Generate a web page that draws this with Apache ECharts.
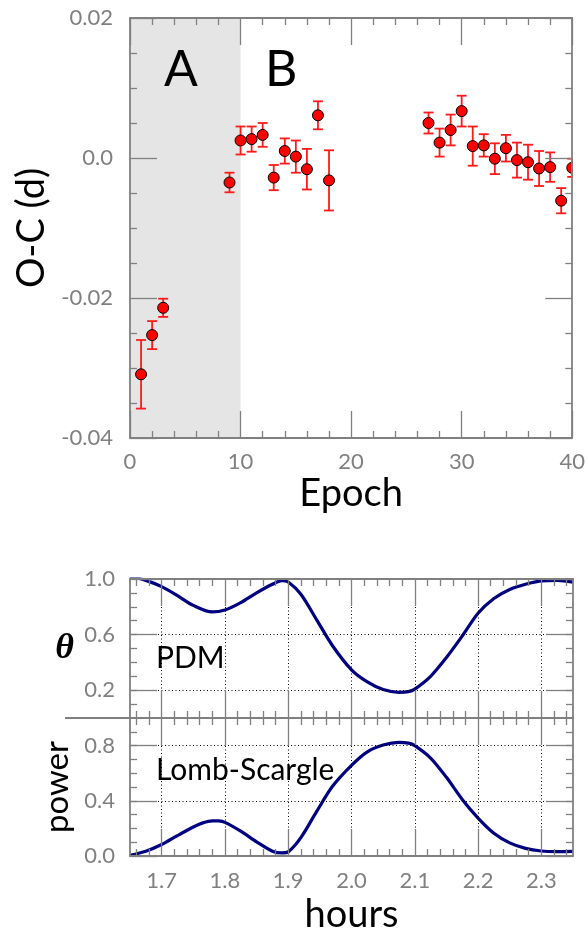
<!DOCTYPE html>
<html>
<head>
<meta charset="utf-8">
<script src="https://cdn.jsdelivr.net/npm/echarts@6/dist/echarts.min.js"></script>
<style>
html,body{margin:0;padding:0;background:#fff;}
#chart{width:588px;height:935px;}
</style>
</head>
<body>
<div id="chart"></div>
<script>
// ---- Top panel data: O-C diagram ----
var epochs = [1,2,3,9,10,11,12,13,14,15,16,17,18,27,28,29,30,31,32,33,34,35,36,37,38,39,40];
var ocValues = [-0.0309,-0.0253,-0.0214,-0.0035,0.0025,0.0027,0.0033,-0.0028,0.0010,0.0002,-0.0016,0.0061,-0.0032,0.0050,0.0022,0.0040,0.0067,0.0017,0.0018,-0.0001,0.0014,-0.0003,-0.0006,-0.0015,-0.0013,-0.0061,-0.0014];
var ocErrors = [0.0049,0.0020,0.0013,0.0014,0.0020,0.0018,0.0017,0.0018,0.0018,0.0023,0.0029,0.0020,0.0043,0.0015,0.0020,0.0022,0.0022,0.0028,0.0016,0.0022,0.0019,0.0025,0.0025,0.0025,0.0021,0.0018,0.0013];

// ---- PDM periodogram ----
var pdmHours = [1.65,1.675,1.70,1.725,1.75,1.78,1.80,1.825,1.85,1.875,1.89,1.90,1.92,1.945,1.97,2.0,2.025,2.05,2.075,2.09,2.10,2.125,2.15,2.175,2.2,2.225,2.25,2.275,2.30,2.325,2.35];
var pdmTheta = [1.02,0.99,0.945,0.88,0.81,0.763,0.777,0.83,0.90,0.962,0.988,0.978,0.89,0.706,0.52,0.347,0.26,0.205,0.185,0.19,0.208,0.30,0.435,0.59,0.754,0.86,0.925,0.962,0.986,0.99,0.978];

// ---- Lomb-Scargle periodogram ----
var lsHours = [1.65,1.675,1.70,1.725,1.75,1.765,1.78,1.79,1.80,1.825,1.85,1.875,1.89,1.90,1.92,1.945,1.97,2.0,2.025,2.05,2.075,2.09,2.10,2.125,2.15,2.175,2.2,2.225,2.25,2.275,2.30,2.325,2.35];
var lsPower = [0.005,0.035,0.083,0.148,0.21,0.24,0.255,0.254,0.244,0.18,0.103,0.035,0.022,0.03,0.133,0.323,0.505,0.657,0.755,0.805,0.824,0.818,0.80,0.71,0.57,0.41,0.275,0.165,0.095,0.055,0.036,0.032,0.034];

// ---- Tick values ----
var hourMajor = [1.7,1.8,1.9,2.0,2.1,2.2,2.3];
var hourMinor = [1.66,1.68,1.72,1.74,1.76,1.78,1.82,1.84,1.86,1.88,1.92,1.94,1.96,1.98,2.02,2.04,2.06,2.08,2.12,2.14,2.16,2.18,2.22,2.24,2.26,2.28,2.32,2.34];
var thetaMajor = [0.2,0.6,1.0];
var powerMajor = [0.0,0.4,0.8];
var unitMinor = [0.1,0.2,0.3,0.4,0.5,0.6,0.7,0.8,0.9];

var FONT = 'Lato, "Open Sans", sans-serif';
var AX = '#808080';
var LBL = '#808080';

function frameAxisLine(){ return {show:true, onZero:false, lineStyle:{color:AX, width:1.8}}; }

function topX(pos, showLabel){
  return {
    type:'value', gridIndex:0, position:pos, min:0, max:40, interval:10, z:10,
    axisLine: frameAxisLine(),
    axisTick:{show:true, inside:true, length:27, lineStyle:{color:AX, width:1.3}},
    minorTick:{show:true, splitNumber:5, length:7, lineStyle:{color:AX, width:1.3}},
    axisLabel:{show:showLabel, color:LBL, fontSize:22, fontFamily:FONT, margin:13},
    splitLine:{show:false}, minorSplitLine:{show:false}
  };
}
function topY(pos, showLabel){
  return {
    type:'value', gridIndex:0, position:pos, min:-0.04, max:0.02, interval:0.02, z:10,
    axisLine: frameAxisLine(),
    axisTick:{show:true, inside:true, length:27, lineStyle:{color:AX, width:1.3}},
    minorTick:{show:true, splitNumber:4, length:7, lineStyle:{color:AX, width:1.3}},
    axisLabel:{show:showLabel, color:LBL, fontSize:22, fontFamily:FONT, margin:17,
      formatter:function(v){ return Math.abs(v)<1e-9 ? '0.0' : v.toFixed(2); }},
    splitLine:{show:false}, minorSplitLine:{show:false}
  };
}
function hx(grid, pos, values, len, opts){
  opts = opts || {};
  return {
    type:'value', gridIndex:grid, position:pos, min:1.65, max:2.35, z:10,
    axisLine: opts.line ? frameAxisLine() : {show:false, onZero:false},
    axisTick:{show:true, inside:true, length:len, customValues:values, lineStyle:{color:AX, width:1.3}},
    axisLabel: opts.label ? {show:true, customValues:hourMajor, color:LBL, fontSize:22, fontFamily:FONT, margin:14,
      formatter:function(v){ return v.toFixed(1); }} : {show:false},
    splitLine: opts.split ? {show:true, lineStyle:{color:'#000', width:1, type:[1,2.5]}} : {show:false},
    name: opts.name || '', nameLocation:'middle', nameGap: opts.nameGap || 0,
    nameTextStyle:{color:'#000', fontSize:38, fontFamily:FONT}
  };
}
function hy(grid, pos, values, len, opts){
  opts = opts || {};
  return {
    type:'value', gridIndex:grid, position:pos, min:0, max:1, z:10,
    axisLine: opts.line ? frameAxisLine() : {show:false, onZero:false},
    axisTick:{show:true, inside:true, length:len, customValues:values, lineStyle:{color:AX, width:1.3}},
    axisLabel: opts.labels ? {show:true, customValues:opts.labels, color:LBL, fontSize:22, fontFamily:FONT, margin:15,
      formatter:function(v){ return v.toFixed(1); }} : {show:false},
    splitLine: opts.split ? {show:true, lineStyle:{color:'#000', width:1, type:[1,2.5]}} : {show:false},
    name: opts.name || '', nameLocation:'middle', nameGap: opts.nameGap || 0,
    nameRotate: opts.nameRotate,
    nameTextStyle: opts.nameStyle || {}
  };
}

var xAxes = [
  Object.assign(topX('bottom', true), {name:'Epoch', nameLocation:'middle', nameGap:37, nameTextStyle:{color:'#000', fontSize:38, fontFamily:FONT}}),
  topX('top', false),
  hx(1,'bottom',hourMajor,27,{line:true, split:true}),
  hx(1,'top',hourMajor,27,{line:true}),
  hx(1,'bottom',hourMinor,7),
  hx(1,'top',hourMinor,7),
  hx(2,'bottom',hourMajor,27,{line:true, split:true, label:true, name:'hours', nameGap:40}),
  hx(2,'top',hourMajor,27,{line:true}),
  hx(2,'bottom',hourMinor,7),
  hx(2,'top',hourMinor,7)
];
var yAxes = [
  Object.assign(topY('left', true), {name:'O-C (d)', nameLocation:'middle', nameGap:78, nameTextStyle:{color:'#000', fontSize:38, fontFamily:FONT}}),
  topY('right', false),
  hy(1,'left',thetaMajor,27,{line:true, split:true, labels:thetaMajor, name:'θ', nameGap:56, nameRotate:0,
     nameStyle:{color:'#000', fontSize:36, fontFamily:'"Liberation Serif", serif', fontStyle:'italic', fontWeight:'bold'}}),
  hy(1,'right',thetaMajor,27,{line:true}),
  hy(1,'left',unitMinor,7),
  hy(1,'right',unitMinor,7),
  hy(2,'left',powerMajor,27,{line:true, split:true, labels:powerMajor, name:'power', nameGap:55,
     nameStyle:{color:'#000', fontSize:33, fontFamily:FONT}}),
  hy(2,'right',powerMajor,27,{line:true}),
  hy(2,'left',unitMinor,7),
  hy(2,'right',unitMinor,7)
];

var option = {
  backgroundColor:'#fff',
  animation:false,
  grid:[
    {left:130, top:18, width:444, height:420},
    {left:130, top:579, width:443, height:139},
    {left:130, top:718, width:443, height:140}
  ],
  xAxis:xAxes,
  yAxis:yAxes,
  graphic:[
    {type:'text', left:164, top:45, z:20, style:{text:'A', fontSize:50, fontFamily:FONT, fill:'#000'}},
    {type:'text', left:265, top:45, z:20, style:{text:'B', fontSize:50, fontFamily:FONT, fill:'#000'}},
    {type:'text', left:156, top:643, z:20, style:{text:'PDM', fontSize:30, fontFamily:FONT, fill:'#000'}},
    {type:'text', left:156, top:755, z:20, style:{text:'Lomb-Scargle', fontSize:30, fontFamily:FONT, fill:'#000'}},
    {type:'line', z:20, shape:{x1:65, y1:718, x2:130, y2:718}, style:{stroke:AX, lineWidth:1.8}}
  ],
  series:[
    {
      type:'custom', xAxisIndex:0, yAxisIndex:0, clip:true,
      data: epochs.map(function(e,i){ return [e, ocValues[i], ocErrors[i]]; }),
      encode:{x:0, y:1},
      renderItem:function(params, api){
        var x = api.value(0), y = api.value(1), e = api.value(2);
        var c = api.coord([x, y]);
        var hi = api.coord([x, y + e]);
        var lo = api.coord([x, y - e]);
        var cap = 5;
        var st = {stroke:'#ff1a1a', lineWidth:1.8};
        return {type:'group', children:[
          {type:'line', shape:{x1:c[0], y1:hi[1], x2:c[0], y2:lo[1]}, style:st},
          {type:'line', shape:{x1:c[0]-cap, y1:hi[1], x2:c[0]+cap, y2:hi[1]}, style:st},
          {type:'line', shape:{x1:c[0]-cap, y1:lo[1], x2:c[0]+cap, y2:lo[1]}, style:st},
          {type:'circle', shape:{cx:c[0], cy:c[1], r:5.5}, style:{fill:'#ff0000', stroke:'#000', lineWidth:1}}
        ]};
      },
      markArea:{silent:true, itemStyle:{color:'#e5e5e5'}, data:[[{xAxis:0},{xAxis:10}]]}
    },
    {
      type:'line', xAxisIndex:2, yAxisIndex:2, smooth:0.3, symbol:'none', clip:true,
      data: pdmHours.map(function(h,i){ return [h, pdmTheta[i]]; }),
      lineStyle:{color:'#000080', width:3.2}
    },
    {
      type:'line', xAxisIndex:6, yAxisIndex:6, smooth:0.3, symbol:'none', clip:true,
      data: lsHours.map(function(h,i){ return [h, lsPower[i]]; }),
      lineStyle:{color:'#000080', width:3.2}
    }
  ]
};
var chart = echarts.init(document.getElementById('chart'), null, {renderer:'canvas'});
chart.setOption(option);
</script>
</body>
</html>
